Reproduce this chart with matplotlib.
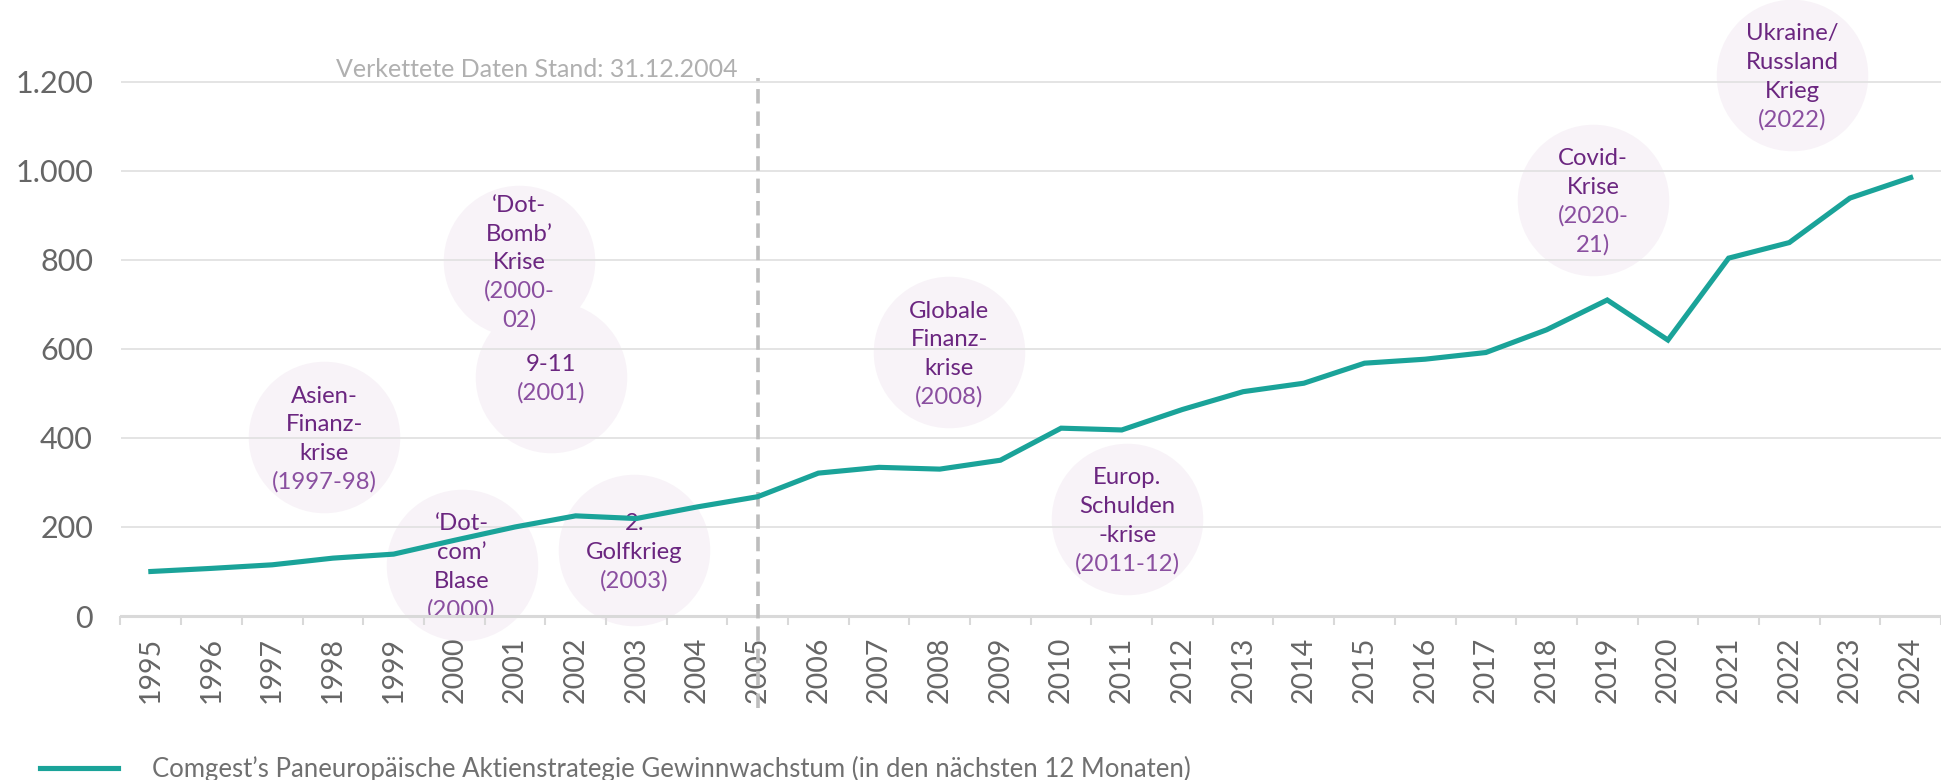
import numpy as np
import matplotlib
matplotlib.use('Agg')
import matplotlib.pyplot as plt
from matplotlib.lines import Line2D

plt.rcParams['font.family'] = ['Lato', 'DejaVu Sans']

# data
years = list(range(1995, 2025))
values = [100, 107, 115, 130, 139, 170, 200, 225, 219, 245,
          268, 321, 334, 330, 350, 422, 418, 464, 504, 523,
          568, 577, 592, 643, 710, 620, 804, 839, 939, 985]
y_ticks = [0, 200, 400, 600, 800, 1000, 1200]
y_tick_labels = ['0', '200', '400', '600', '800', '1.000', '1.200']

# crisis bubbles: name lines, date lines, centre (year, value)
event_names = [["Asien-", "Finanz-", "krise"],
               ["\u2018Dot-", "com\u2019", "Blase"],
               ["\u2018Dot-", "Bomb\u2019", "Krise"],
               ["9-11"],
               ["2.", "Golfkrieg"],
               ["Globale", "Finanz-", "krise"],
               ["Europ.", "Schulden", "-krise"],
               ["Covid-", "Krise"],
               ["Ukraine/", "Russland", "Krieg"]]
event_dates = [["(1997-98)"], ["(2000)"], ["(2000-", "02)"], ["(2001)"],
               ["(2003)"], ["(2008)"], ["(2011-12)"], ["(2020-", "21)"],
               ["(2022)"]]
event_x = [1997.86, 2000.12, 2001.07, 2001.60, 2002.97, 2008.16, 2011.09, 2018.77, 2022.05]
event_y = [402, 115, 798, 537, 148, 593, 218, 935, 1216]

break_year = 2005
break_note = "Verkettete Daten Stand: 31.12.2004"
series_name = "Comgest\u2019s Paneurop\u00e4ische Aktienstrategie Gewinnwachstum (in den n\u00e4chsten 12 Monaten)"

teal = '#1aa399'
purple = '#6b2680'
purple_light = '#8a4fa0'
grey_txt = '#666666'

fig = plt.figure(figsize=(19.41, 7.80), dpi=100)
ax = fig.add_axes([120.5 / 1941, 164 / 780, 1820.5 / 1941, 616 / 780])
ax.set_xlim(1994.5, 2024.3)
ax.set_ylim(0, 1384)

for s in ax.spines.values():
    s.set_visible(False)

# bubbles
ax.scatter(event_x, event_y, s=11900, color='#f8f3f8', zorder=1, clip_on=False, linewidths=0)

# grid and base line
for v in y_ticks[1:]:
    ax.axhline(v, color='#e2e2e2', lw=1.3, zorder=1.5)
ax.axhline(0, color='#d9d9d9', lw=2.2, zorder=2.5, clip_on=False)

# bubble texts
line_h = 28.7
for x, y, names, dates in zip(event_x, event_y, event_names, event_dates):
    lines = [(t, purple) for t in names] + [(t, purple_light) for t in dates]
    n = len(lines)
    for i, (t, c) in enumerate(lines):
        off = ((n - 1) / 2 - i) * line_h - 8.5
        ax.annotate(t, (x, y), xytext=(0, off), textcoords='offset pixels',
                    ha='center', va='baseline', fontsize=17.2, color=c,
                    zorder=2, clip_on=True)

# main line
ax.plot(years, values, color=teal, lw=3.7, zorder=3, solid_joinstyle='miter')

# break marker
ax.plot([break_year, break_year], [-207, 1209], color='#bdbdbd', lw=2.6,
        dashes=(4, 2.2), zorder=2.6, clip_on=False)
ax.text(2004.67, 1212, break_note, ha='right', va='baseline', fontsize=18,
        color='#b0b0b0')

# axes ticks
ax.set_yticks(y_ticks)
ax.set_yticklabels(y_tick_labels)
ax.tick_params(axis='y', length=0, pad=19.8, labelsize=22, labelcolor=grey_txt)
ax.set_xticks(years)
ax.set_xticklabels([str(y) for y in years], rotation=90)
ax.set_xticks(np.arange(1994.5, 2025, 1.0), minor=True)
ax.tick_params(axis='x', which='major', length=0, pad=15, labelsize=20.5, labelcolor=grey_txt)
ax.tick_params(axis='x', which='minor', length=6.5, width=1.5, color='#d9d9d9', direction='out')

# legend
fig.add_artist(Line2D([40 / 1941, 118 / 1941], [12 / 780, 12 / 780], color=teal, lw=3.7))
fig.text(152 / 1941, 3 / 780, series_name, ha='left', va='baseline', fontsize=18.5,
         color='#707070')

fig.savefig('out.png', dpi=100)
